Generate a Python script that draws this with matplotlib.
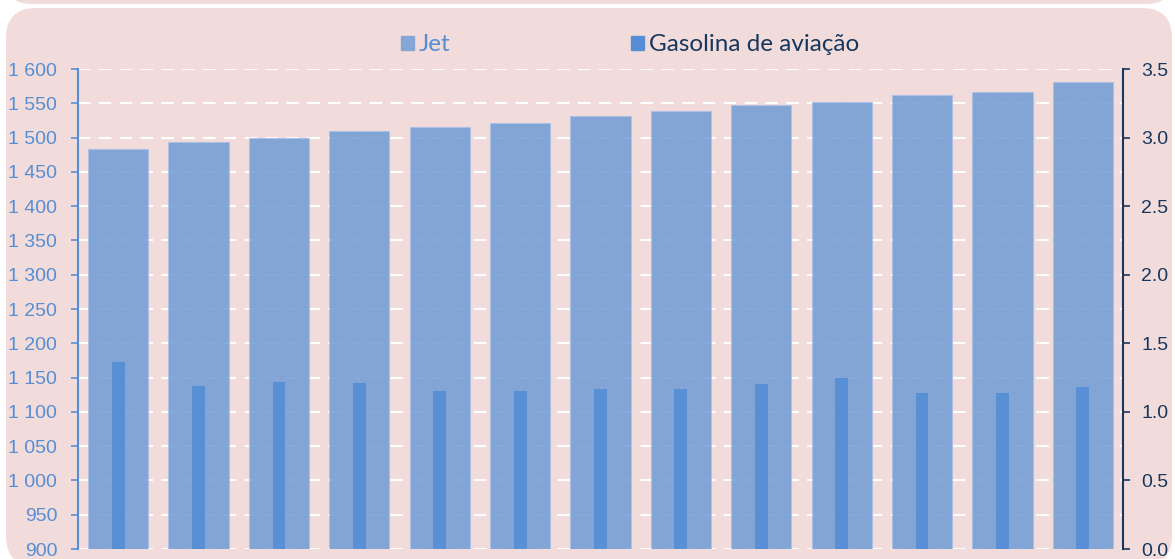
import matplotlib.pyplot as plt
from matplotlib.patches import FancyBboxPatch, Patch
from matplotlib.ticker import FuncFormatter, MultipleLocator
import numpy as np

# values
years = list(range(1, 14))
jet = [1483, 1493, 1500, 1509, 1515, 1521, 1531, 1539, 1547, 1552, 1562, 1567, 1581]
gasolina = [1.36, 1.19, 1.22, 1.21, 1.15, 1.15, 1.17, 1.17, 1.20, 1.25, 1.14, 1.14, 1.18]
labels = ['Jet', 'Gasolina de aviação']

BG = '#F2DCDB'
JET_C = '#739DD5'
GAS_C = '#558ED5'
LEFT_C = '#558ED5'
RIGHT_C = '#17375E'

plt.rcParams['font.family'] = ['Liberation Sans', 'DejaVu Sans']

fig = plt.figure(figsize=(11.75, 5.59), dpi=100)
fig.patch.set_facecolor('white')

# rounded background panels (pixel -> inch)
H = 5.59
def px(v):
    return v / 100.0
top_panel = FancyBboxPatch((px(6), H - px(4)), px(1166), px(40),
                           boxstyle='round,pad=0,rounding_size=0.25',
                           transform=fig.dpi_scale_trans, fc=BG, ec='none', zorder=-10)
main_panel = FancyBboxPatch((px(6), H - px(566)), px(1166), px(558),
                            boxstyle='round,pad=0,rounding_size=0.3',
                            transform=fig.dpi_scale_trans, fc=BG, ec='none', zorder=-10)
fig.patches.extend([top_panel, main_panel])

ax = fig.add_axes([78 / 1175, 1 - 549 / 559, (1123 - 78) / 1175, 480 / 559])
ax.set_facecolor('none')
x = np.arange(len(years))
ax.set_axisbelow(True)
ax.yaxis.grid(True, color='white', linestyle=(0, (6, 4)), linewidth=1.5)
ax.bar(x, jet, width=0.75, bottom=0, color=JET_C, alpha=0.87,
       edgecolor='#A9C0E6', linewidth=0.8, zorder=2)
ax.set_ylim(900, 1600)
ax.set_xlim(-0.5, len(years) - 0.5)
ax.yaxis.set_major_locator(MultipleLocator(50))
ax.yaxis.set_major_formatter(FuncFormatter(lambda v, p: f'{int(v):,}'.replace(',', ' ')))
ax.tick_params(axis='y', colors=LEFT_C, labelsize=14, length=5, width=1.2, pad=10)
ax.tick_params(axis='x', bottom=False, labelbottom=False)
for s in ['top', 'bottom', 'right']:
    ax.spines[s].set_visible(False)
ax.spines['left'].set_color(LEFT_C)
ax.spines['left'].set_linewidth(1.5)

ax2 = ax.twinx()
ax2.bar(x, gasolina, width=0.16, color=GAS_C, alpha=0.92, zorder=3)
ax2.set_ylim(0, 3.5)
ax2.yaxis.set_major_locator(MultipleLocator(0.5))
ax2.yaxis.set_major_formatter(FuncFormatter(lambda v, p: f'{v:.1f}'))
ax2.tick_params(axis='y', colors=RIGHT_C, labelsize=14, length=5, width=1.2, pad=8)
for s in ['top', 'bottom', 'left']:
    ax2.spines[s].set_visible(False)
ax2.spines['right'].set_color(RIGHT_C)
ax2.spines['right'].set_linewidth(1.5)

handles = [Patch(color='#86A6D6'), Patch(color=GAS_C)]
leg = fig.legend(handles, labels, loc='center', bbox_to_anchor=(630 / 1175, 1 - 45 / 559),
                 ncol=2, frameon=False, handlelength=0.55, handleheight=0.55,
                 handletextpad=0.2, columnspacing=7.4,
                 prop={'family': 'Lato', 'size': 17.5})
leg.get_texts()[0].set_color('#558ED5')
leg.get_texts()[1].set_color(RIGHT_C)

fig.savefig('out.png', dpi=100, facecolor='white')
